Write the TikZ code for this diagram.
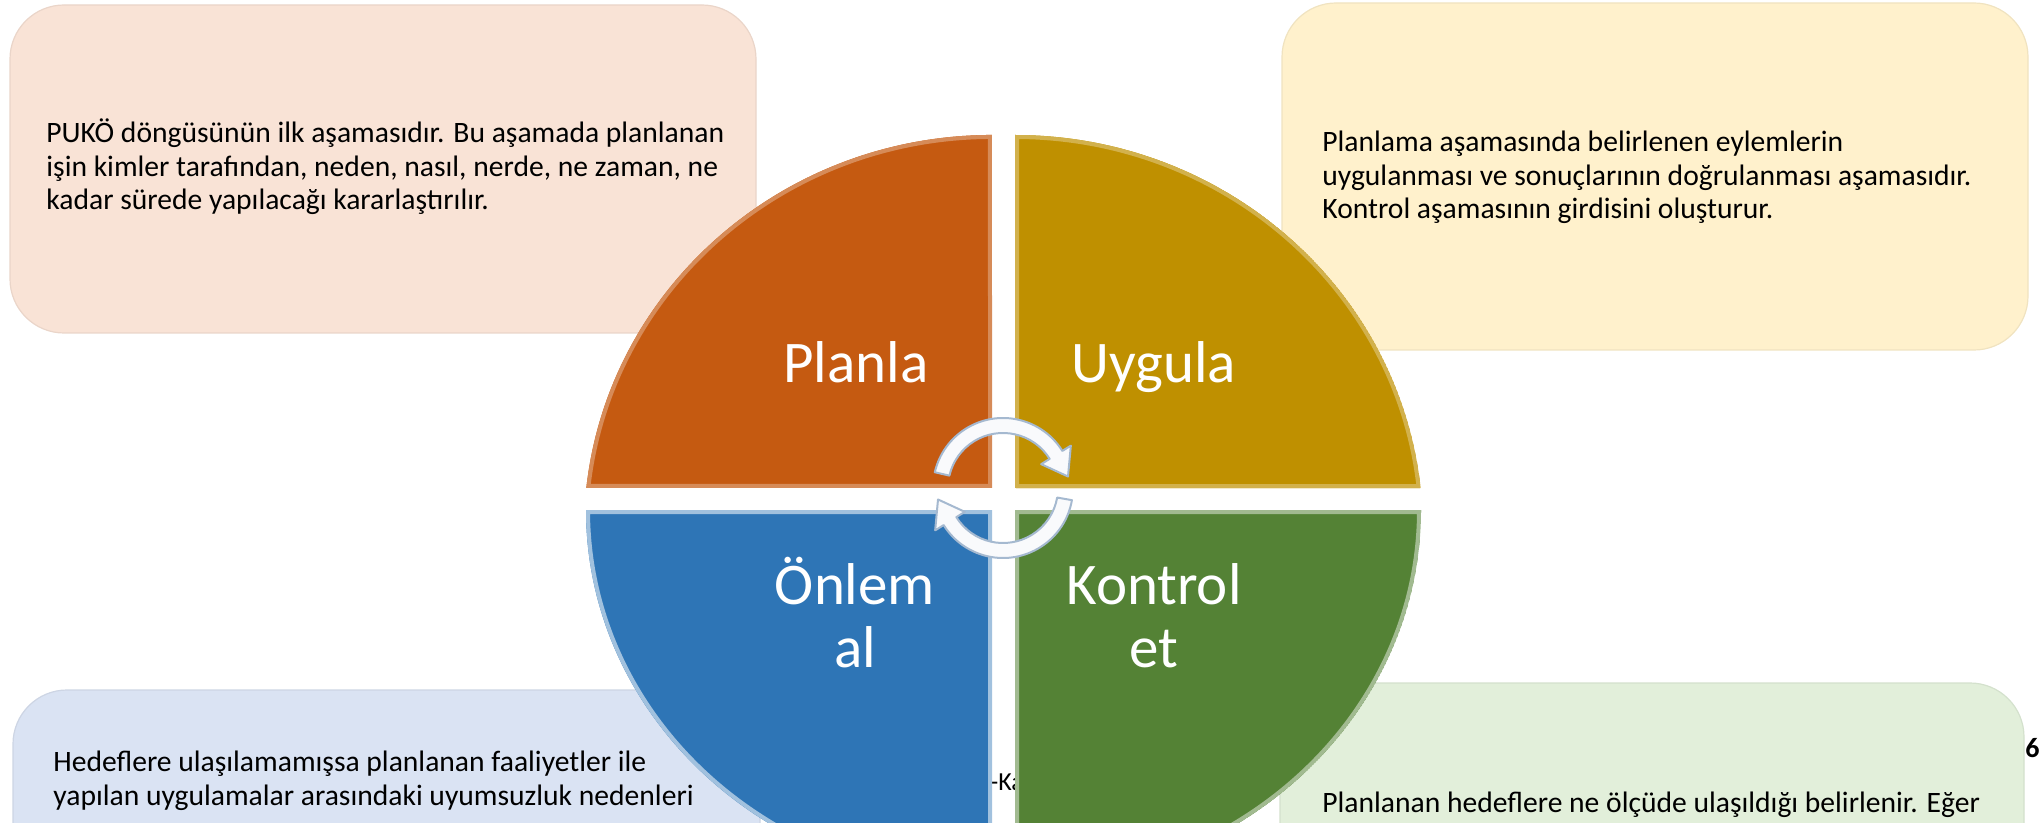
\documentclass[tikz,border=0pt]{standalone}
\usepackage{fontspec}
\setmainfont{Carlito}
\usetikzlibrary{calc}
\definecolor{planlaC}{RGB}{197,90,17}
\definecolor{uygulaC}{RGB}{191,144,0}
\definecolor{onlemC}{RGB}{46,117,182}
\definecolor{kontrolC}{RGB}{84,130,53}
\definecolor{planlaBox}{RGB}{249,227,214}
\definecolor{uygulaBox}{RGB}{255,241,204}
\definecolor{onlemBox}{RGB}{218,227,243}
\definecolor{kontrolBox}{RGB}{226,239,218}
\definecolor{arrowedge}{RGB}{165,185,208}

\begin{document}
\begin{tikzpicture}[x=0.5pt,y=-0.5pt,
  infobox/.style={rounded corners=27pt, line width=0.6pt},
  boxtext/.style={anchor=base west, align=left, inner sep=0pt, font=\fontsize{14.8}{16.8}\selectfont},
  bevel/.style={line width=4pt, line join=round},
  lbl/.style={text=white, align=center, inner sep=0pt, font=\fontsize{29.5}{31.5}\selectfont},
  cyclearrow/.style={fill=white!93!arrowedge, draw=arrowedge, line width=1pt, line join=round}]
  \path[use as bounding box, clip] (0,0) rectangle (2040,823);
  % info boxes
  \filldraw[infobox, fill=planlaBox, draw=planlaBox!94!black] (10,5) rectangle (756,333);
  \filldraw[infobox, fill=uygulaBox, draw=uygulaBox!94!black] (1282,3) rectangle (2028,350);
  \filldraw[infobox, fill=onlemBox, draw=onlemBox!94!black] (13,690) rectangle (760,900);
  \filldraw[infobox, fill=kontrolBox, draw=kontrolBox!94!black] (1280,683) rectangle (2024,900);
  \node[boxtext] (planlatxt) at (46,210) {PUKÖ döngüsünün ilk aşamasıdır. Bu aşamada planlanan\\işin kimler tarafından, neden, nasıl, nerde, ne zaman, ne\\kadar sürede yapılacağı kararlaştırılır.};
  \node[boxtext] (uygulatxt) at (1322,219) {Planlama aşamasında belirlenen eylemlerin\\uygulanması ve sonuçlarının doğrulanması aşamasıdır.\\Kontrol aşamasının girdisini oluşturur.};
  \node[boxtext] (onlemtxt) at (53,805) {Hedeflere ulaşılamamışsa planlanan faaliyetler ile\\yapılan uygulamalar arasındaki uyumsuzluk nedenleri};
  \node[boxtext] (kontroltxt) at (1322,812) {Planlanan hedeflere ne ölçüde ulaşıldığı belirlenir. Eğer};
  % footer bits
  \node[anchor=base west, inner sep=0pt, font=\fontsize{13}{15}\selectfont] (altbilgi) at (990,790) {-Ka};
  \node[anchor=base east, inner sep=0pt, font=\bfseries\fontsize{14}{16}\selectfont] (sayfano) at (2040,757) {6};
  % quadrants
  \begin{scope}
    \clip (992,488) -- (586.3,488) arc[start angle=186.1, end angle=270, x radius=408, y radius=395] -- cycle;
    \filldraw[bevel, fill=planlaC, draw=planlaC!70!white] (992,488) -- (586.3,488) arc[start angle=186.1, end angle=270, x radius=408, y radius=395] -- cycle;
  \end{scope}
  \begin{scope}
    \clip (1015,488) -- (1015,135) arc[start angle=270, end angle=353.9, x radius=408, y radius=395] -- cycle;
    \filldraw[bevel, fill=uygulaC, draw=uygulaC!70!white] (1015,488) -- (1015,135) arc[start angle=270, end angle=353.9, x radius=408, y radius=395] -- cycle;
  \end{scope}
  \begin{scope}
    \clip (992,510) -- (992,885) arc[start angle=90, end angle=180, x radius=406, y radius=375] -- cycle;
    \filldraw[bevel, fill=onlemC, draw=onlemC!45!white] (992,510) -- (992,885) arc[start angle=90, end angle=180, x radius=406, y radius=375] -- cycle;
  \end{scope}
  \begin{scope}
    \clip (1015,510) -- (1421,510) arc[start angle=0, end angle=90, x radius=406, y radius=375] -- cycle;
    \filldraw[bevel, fill=kontrolC, draw=kontrolC!55!white] (1015,510) -- (1421,510) arc[start angle=0, end angle=90, x radius=406, y radius=375] -- cycle;
  \end{scope}
  % labels
  \node[lbl, anchor=base] (planla) at (856,383) {Planla};
  \node[lbl, anchor=base] (uygula) at (1154,383) {Uygula};
  \node[lbl, anchor=base] (onlem) at (855,667) {Önlem\\al};
  \node[lbl, anchor=base] (kontrol) at (1154,667) {Kontrol\\et};
  % cycle arrows
  \begin{scope}[shift={(1003,488)}, yscale=-1]
    \filldraw[cyclearrow] (167:55) -- (167:70) arc[start angle=167, end angle=32, radius=70] -- (32:80) -- (10:66) -- (32:45) -- (32:55) arc[start angle=32, end angle=167, radius=55] -- cycle;
    \filldraw[cyclearrow] (-10:55) -- (-10:70) arc[start angle=-10, end angle=-148, radius=70] -- (-148:80) -- (-170:66) -- (-148:45) -- (-148:55) arc[start angle=-148, end angle=-10, radius=55] -- cycle;
  \end{scope}
\end{tikzpicture}
\end{document}
